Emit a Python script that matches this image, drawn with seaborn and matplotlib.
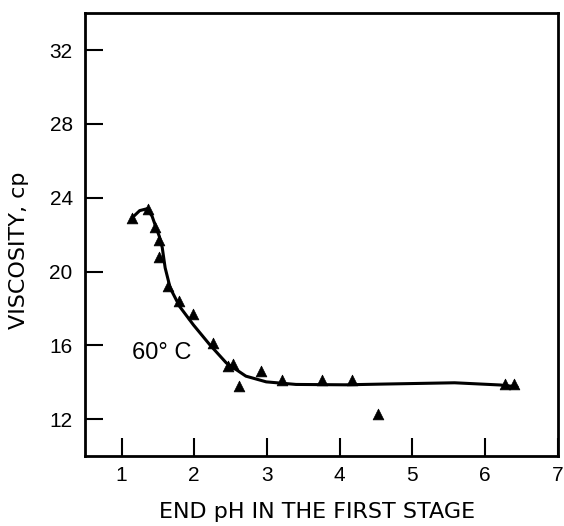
import matplotlib
matplotlib.use("Agg")
import matplotlib.pyplot as plt
import seaborn as sns
import pandas as pd

# measured points (triangles)
ph_points = [1.15, 1.36, 1.46, 1.52, 1.52, 1.64, 1.79, 1.98, 2.26, 2.46, 2.54, 2.61, 2.92, 3.21, 3.76, 4.17, 4.53, 6.28, 6.40]
visc_points = [22.9, 23.4, 22.4, 21.7, 20.8, 19.2, 18.4, 17.7, 16.1, 14.9, 15.0, 13.8, 14.6, 14.1, 14.1, 14.1, 12.3, 13.9, 13.9]

# fitted curve
ph_curve = [1.17, 1.25, 1.35, 1.42, 1.46, 1.52, 1.56, 1.60, 1.67, 1.80, 1.99, 2.21, 2.44, 2.71, 2.99, 3.40, 4.08, 4.60, 5.58, 6.21, 6.44]
visc_curve = [23.0, 23.3, 23.4, 23.0, 22.55, 21.9, 21.3, 20.2, 19.1, 18.1, 17.1, 16.05, 15.05, 14.33, 14.02, 13.88, 13.86, 13.9, 13.97, 13.85, 13.75]

x_ticks = [1, 2, 3, 4, 5, 6, 7]
y_ticks = [12, 16, 20, 24, 28, 32]

sns.set_style("ticks")
plt.rcParams['font.family'] = ['Liberation Sans', 'DejaVu Sans']
plt.rcParams['text.color'] = 'black'
plt.rcParams['axes.labelcolor'] = 'black'

fig = plt.figure(figsize=(5.64, 5.26), dpi=100)
ax = fig.add_axes([0.151, 0.133, 0.838, 0.842])

df_pts = pd.DataFrame({"ph": ph_points, "visc": visc_points})
df_curve = pd.DataFrame({"ph": ph_curve, "visc": visc_curve})

sns.lineplot(data=df_curve, x="ph", y="visc", sort=False, color="black", linewidth=2.2, ax=ax, estimator=None)
sns.scatterplot(data=df_pts, x="ph", y="visc", marker="^", s=60, color="black", edgecolor="black", linewidth=0.5, ax=ax, zorder=3)

ax.set_xlim(0.5, 7)
ax.set_ylim(10, 34)
ax.set_xticks(x_ticks)
ax.set_yticks(y_ticks)
ax.tick_params(direction="in", length=13, width=1.5, labelsize=15, colors="black")
ax.tick_params(axis="x", pad=7)
ax.tick_params(axis="y", pad=9)
for s in ax.spines.values():
    s.set_linewidth(2.0)
    s.set_color("black")

ax.set_xlabel("END pH IN THE FIRST STAGE", fontsize=16, family=["DejaVu Sans"], color="black")
ax.set_ylabel("VISCOSITY, cp", fontsize=16, family=["DejaVu Sans"], color="black")
ax.xaxis.set_label_coords(0.49, -0.103)
ax.yaxis.set_label_coords(-0.118, 0.465)

ax.text(1.55, 15.6, "60° C", fontsize=17, ha="center", va="center", color="black")

fig.savefig("out.png", dpi=100)
